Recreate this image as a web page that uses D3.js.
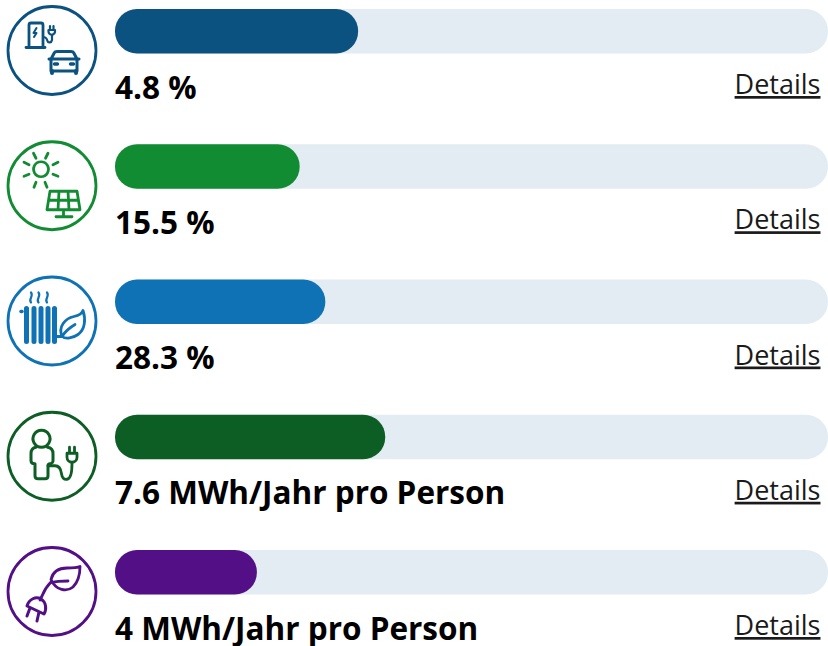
<!DOCTYPE html>
<html><head><meta charset="utf-8">
<script src="https://cdn.jsdelivr.net/npm/d3@7"></script>
<style>html,body{margin:0;padding:0;background:#fff}svg{display:block}text{font-family:"Open Sans",sans-serif}</style>
</head><body><div id="c"></div>
<script>
const labels = ["4.8 %","15.5 %","28.3 %","7.6 MWh/Jahr pro Person","4 MWh/Jahr pro Person"];
const fillPercent = [34.1,25.9,29.5,37.9,19.9];
const colors = ["#0b5280","#118c32","#0f72b5","#0d5e24","#530f85"];
const linkText = "Details";
const trackColor = "#e3ecf2";
// icon line work: [path, stroke width]
const icons = [
 [["M29 47V25a2 2 0 0 1 2-2h10a2 2 0 0 1 2 2V47M26 47.500H45",2.8],
  ["M36.500 28l-3 5h3l-2.500 4",2],
  ["M43 37c3 0 4 2 4.500 4s4 2 4.500-1V35",2.2],
  ["M48.500 30h6.500v1.500a3.250 3.250 0 0 1-6.500 0zM50 29V26M53.500 29V26",2.2],
  ["M49 59H79M51 59L54.500 52.500Q55 51.500 57 51.500H71Q73 51.500 73.500 52.500L77 59V71H51Z",3],
  ["M52 71V73M76 71V73",4],
  ["M54.500 64h3M70.500 64h3",3.4]],
 [["M41 26.500a7.500 7.500 0 1 0 .01 0z",2.6],
  ["M33.500 18l2.500 5M48 18l-2.500 5M24 27l5 2.500M58 27l-5 2.500M24 41l5-2M58 41l-5-2M34 52l2-5M47 52l-2-5",2.8],
  ["M50 56H77L80 74.500H47ZM48.500 65H78.500M59 56 58 74.500M68 56 69 74.500M63.500 74.500V81.500M56 81.500H72",2.8]],
 [["M26.500 38V71M34 38V71M41 38V71M48 38V71M54.500 38V71",5],
  ["M21 41h1",3.5],
  ["M31 32c-3-3.500 3-6 0-10M38.500 32c-3-3.500 3-6 0-10M47 32c-3-3.500 3-6 0-10",2.2],
  ["M62 66c-4-10 3-18 12-20 5-1 8-3 9-6 3 9 2 19-5 24-5 3.500-12 5-16 2zM62 66c3-5 8-9 13-12M57 66h5",2.8]],
 [["M41.500 24.500a8.500 8.500 0 1 0 .01 0z",3],
  ["M36 41.500C32 42 31 45 31 48V55C31 57 33 58 35 58V70C35 72 36 73 38 73H45C47 73 48 72 48 70V60C48 58 50 58 50 58C52 58 53 56 53 55V48C53 45 52 42 47.500 41.500",3],
  ["M48 60H55C60 60 61 64 61.500 68S64 74 67 73.500 72 69 72 58",2.8],
  ["M67 47.500H77V51.500A5 5 0 0 1 67 51.500ZM69.500 47V41.500M74.500 47V41.500",2.8]],
 [["M51 38.500C53 30 60 27 67 27 72 27 77 27 80 25.500 80 33 78 41 73 46 67 51 56 50 51 38.500ZM52 41.500C57 40 62 40 68 40",2.8],
  ["M51 41C47 45 44 50 42 55L40 59",2.8],
  ["M27 65L44 73C47 68 46 61 41 58 36 55 29 58 27 65ZM30 67L27 75M39 71L37 80",3]]
];
const W = 828, H = 646;
const x = d3.scaleLinear().domain([0,100]).range([115,828]);
const y = d3.scaleBand().domain(d3.range(labels.length)).range([9,9+135.25*5]);
const barH = 44.5;
const svg = d3.select("#c").append("svg").attr("width",W).attr("height",H);
const rows = svg.selectAll("g.row").data(labels).join("g").attr("class","row");
rows.append("rect").attr("x",x(0)).attr("y",(d,i)=>y(i)).attr("width",x(100)-x(0)).attr("height",barH).attr("rx",22).attr("fill",trackColor);
rows.append("rect").attr("x",x(0)).attr("y",(d,i)=>y(i)).attr("width",(d,i)=>x(fillPercent[i])-x(0)).attr("height",barH).attr("rx",22).attr("fill",(d,i)=>colors[i]);
rows.append("text").attr("x",115).attr("y",(d,i)=>y(i)+89.5).attr("font-size",31.5).attr("font-weight",700).attr("fill","#000").text(d=>d);
rows.append("text").attr("x",820.5).attr("y",(d,i)=>y(i)+85).attr("text-anchor","end").attr("font-size",27).attr("fill","#1a1a1a").attr("text-decoration","underline").text(linkText);
rows.each(function(d,i){
  const g = d3.select(this).append("g").attr("transform",`translate(0,${y(i)-9})`);
  g.append("circle").attr("cx",52).attr("cy",50.500).attr("r",44).attr("fill","#fff").attr("stroke",colors[i]).attr("stroke-width",2.800);
  g.selectAll("path").data(icons[i]).join("path").attr("d",p=>p[0]).attr("fill","none").attr("stroke",colors[i]).attr("stroke-width",p=>p[1]).attr("stroke-linecap","round").attr("stroke-linejoin","round");
});
</script></body></html>
